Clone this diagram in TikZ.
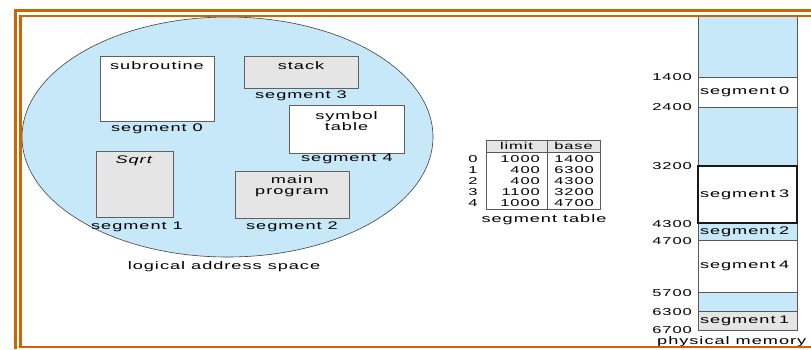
\documentclass[tikz,border=0pt]{standalone}
\usepackage{fontspec}
\setmainfont{Liberation Sans}[FakeStretch=1.65,LetterSpace=9]
\usetikzlibrary{shapes.geometric}
\definecolor{frameorange}{RGB}{205,102,0}
\definecolor{spaceblue}{RGB}{199,232,248}
\definecolor{seggray}{RGB}{229,229,229}

\begin{document}
\begin{tikzpicture}[x=1pt,y=-1pt,font=\fontsize{11}{11}\selectfont,
  seg box/.style={rectangle,draw=gray!75!black,line width=0.8pt,inner sep=0pt},
  seg label/.style={inner sep=0pt,align=center},
  mem cell/.style={rectangle,draw=black!65,line width=0.7pt,text width=95pt,inner xsep=2pt,inner ysep=0pt,align=left},
  addr/.style={anchor=east,inner sep=0pt,font=\fontsize{10}{10}\selectfont},
  tab text/.style={inner sep=0pt,font=\fontsize{10}{10}\selectfont},
  tab line/.style={draw=gray!70!black,line width=0.6pt}]
  \useasboundingbox (0,0) rectangle (811,349);

  % logical address space
  \node[ellipse,fill=spaceblue,draw=gray!50!black,line width=0.6pt,minimum width=411pt,minimum height=240pt] (space) at (227.5,137) {};

  \node[seg box,fill=white,minimum width=114pt,minimum height=65pt] (s0) at (157,88.5) {};
  \node[seg box,fill=seggray,minimum width=77pt,minimum height=66pt] (s1) at (134.5,184) {};
  \node[seg box,fill=seggray,minimum width=114pt,minimum height=47pt] (s2) at (292,194.5) {};
  \node[seg box,fill=seggray,minimum width=114pt,minimum height=32pt] (s3) at (301,72) {};
  \node[seg box,fill=white,minimum width=115pt,minimum height=48pt] (s4) at (346.5,129) {};

  \node[seg label] (t0) at (157,66) {subroutine};
  \node[seg label] (t1) at (134.5,161) {\textit{Sqrt}};
  \node[seg label] (t2) at (292,186.5) {main\\program};
  \node[seg label] (t3) at (301,66) {stack};
  \node[seg label] (t4) at (346.5,121) {symbol\\table};

  \node[seg label] (l0) at (157,129) {segment 0};
  \node[seg label] (l1) at (137,227) {segment 1};
  \node[seg label] (l2) at (292,227) {segment 2};
  \node[seg label] (l3) at (301,96) {segment 3};
  \node[seg label] (l4) at (347,159) {segment 4};
  \node[seg label] (lspace) at (224,267) {logical address space};

  % segment table
  \draw[tab line,fill=seggray] (486,140) rectangle (600,152);
  \draw[tab line] (486,152) rectangle (600,209);
  \draw[tab line] (547,140) -- (547,209);
  \node[tab text] (hl) at (516.5,146) {limit};
  \node[tab text] (hb) at (573.5,146) {base};

  \node[tab text] (r0) at (473,159) {0};
  \node[tab text] (r1) at (473,170) {1};
  \node[tab text] (r2) at (473,181) {2};
  \node[tab text] (r3) at (473,192) {3};
  \node[tab text] (r4) at (473,203) {4};
  \node[tab text,anchor=east] (lim0) at (540,159) {1000};
  \node[tab text,anchor=east] (lim1) at (540,170) {400};
  \node[tab text,anchor=east] (lim2) at (540,181) {400};
  \node[tab text,anchor=east] (lim3) at (540,192) {1100};
  \node[tab text,anchor=east] (lim4) at (540,203) {1000};
  \node[tab text,anchor=east] (base0) at (594,159) {1400};
  \node[tab text,anchor=east] (base1) at (594,170) {6300};
  \node[tab text,anchor=east] (base2) at (594,181) {4300};
  \node[tab text,anchor=east] (base3) at (594,192) {3200};
  \node[tab text,anchor=east] (base4) at (594,203) {4700};
  \node[seg label] (ltab) at (544,220) {segment table};

  % physical memory
  \node[mem cell,fill=spaceblue,minimum height=61pt] (m0) at (747.5,46.5) {};
  \node[mem cell,fill=white,minimum height=30pt] (m1) at (747.5,92) {segment 0};
  \node[mem cell,fill=spaceblue,minimum height=59pt] (m2) at (747.5,136.5) {};
  \node[mem cell,fill=spaceblue,minimum height=17pt] (m4) at (747.5,231.5) {segment 2};
  \node[mem cell,fill=white,minimum height=52pt] (m5) at (747.5,266) {segment 4};
  \node[mem cell,fill=spaceblue,minimum height=19pt] (m6) at (747.5,301.5) {};
  \node[mem cell,fill=seggray,minimum height=19pt] (m7) at (747.5,320.5) {segment 1};
  \node[mem cell,fill=white,draw=black!90,line width=1.2pt,minimum height=57pt] (m3) at (747.5,194.5) {segment 3};

  \node[addr] (a1) at (692,77.5) {1400};
  \node[addr] (a2) at (692,107) {2400};
  \node[addr] (a3) at (692,166) {3200};
  \node[addr] (a4) at (692,224) {4300};
  \node[addr] (a5) at (692,241) {4700};
  \node[addr] (a6) at (692,293) {5700};
  \node[addr] (a7) at (692,312) {6300};
  \node[addr] (a8) at (692,330) {6700};
  \node[seg label,anchor=west] (lmem) at (657,342) {physical memory};

  % frame
  \draw[frameorange,line width=2.7pt] (15.3,349) -- (15.3,10.3) -- (811,10.3);
  \draw[frameorange,line width=2.4pt] (811,347) -- (20.5,347) -- (20.5,16.2) -- (811,16.2);
\end{tikzpicture}
\end{document}
